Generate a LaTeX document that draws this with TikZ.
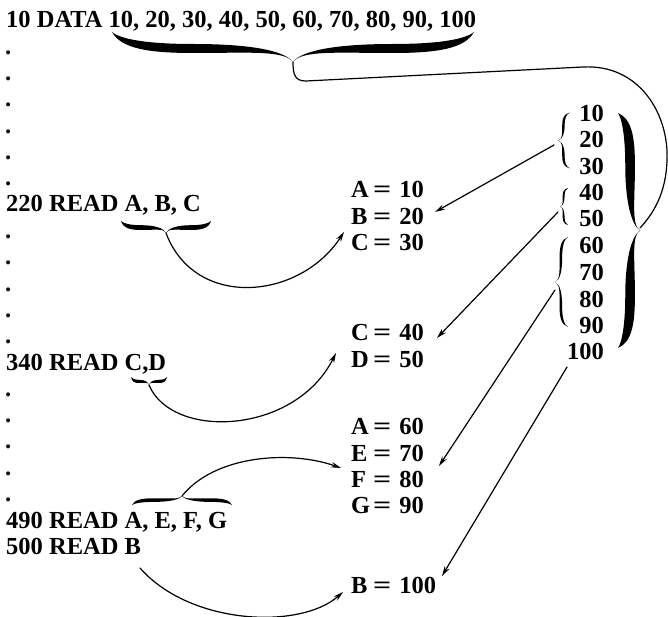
\documentclass[tikz,border=0pt]{standalone}
\usepackage{fontspec}
\usepackage{graphicx}
\setmainfont{Liberation Serif}
\usetikzlibrary{arrows.meta}
% filled calligraphic brace: ends at (-1,0),(1,0), tip at (0,1); #1 = half thickness
\newcommand\bracefill[1]{%
 \fill (-1,0) .. controls (-0.95,{0.4+#1}) and (-0.8,{0.55+#1}) .. (-0.55,{0.55+#1})
   .. controls (-0.25,{0.55+#1}) and (-0.05,0.6) .. (0,1)
   .. controls (0.05,0.6) and (0.25,{0.55+#1}) .. (0.55,{0.55+#1})
   .. controls (0.8,{0.55+#1}) and (0.95,{0.4+#1}) .. (1,0)
   .. controls (0.95,{0.4-#1}) and (0.8,{0.55-#1}) .. (0.55,{0.55-#1})
   .. controls (0.25,{0.55-#1}) and (0.05,0.6) .. (0,1)
   .. controls (-0.05,0.6) and (-0.25,{0.55-#1}) .. (-0.55,{0.55-#1})
   .. controls (-0.8,{0.55-#1}) and (-0.95,{0.4-#1}) .. (-1,0) -- cycle;}
\newcommand\val[2]{\makebox[22pt][l]{#1}\scalebox{1.3}[1]{=}\hspace{8pt}#2}
\begin{document}
\begin{tikzpicture}[x=1pt,y=-1pt,
  txt/.style={anchor=base west,inner sep=0pt,font=\fontsize{24.5}{26}\selectfont\bfseries},
  num/.style={anchor=base east,inner sep=0pt,font=\fontsize{24.5}{26}\selectfont\bfseries},
  conn/.style={line width=1.2pt,line cap=round},
  arr/.style={conn,-{Stealth[length=10pt,width=5.5pt]}}]
\useasboundingbox (0,0) rectangle (668,617);
% program lines
\node[txt] (d10) at (6,28) {10 DATA 10, 20, 30, 40, 50, 60, 70, 80, 90, 100};
\foreach \k in {1,2,3,4,5,6,8,9,10,11,12,14,15,16,17,18}
  \node[txt] (dot\k) at (5,{28+26.3*\k}) {.};
\node[txt] (r220) at (6,212) {220 READ A, B, C};
\node[txt] (r340) at (6,370) {340 READ C,D};
\node[txt] (r490) at (6,528) {490 READ A, E, F, G};
\node[txt] (r500) at (6,554) {500 READ B};
% values
\node[txt] (vA10) at (351,198) {\val{A}{10}};
\node[txt] (vB20) at (351,225) {\val{B}{20}};
\node[txt] (vC30) at (351,251) {\val{C}{30}};
\node[txt] (vC40) at (351,340) {\val{C}{40}};
\node[txt] (vD50) at (351,367) {\val{D}{50}};
\node[txt] (vA60) at (351,434) {\val{A}{60}};
\node[txt] (vE70) at (351,461) {\val{E}{70}};
\node[txt] (vF80) at (351,487) {\val{F}{80}};
\node[txt] (vG90) at (351,513) {\val{G}{90}};
\node[txt] (vB100) at (351,593) {\val{B}{100}};
% data column
\node[num] (n10) at (604,122) {10};
\node[num] (n20) at (604,148) {20};
\node[num] (n30) at (604,175) {30};
\node[num] (n40) at (604,201) {40};
\node[num] (n50) at (604,227) {50};
\node[num] (n60) at (604,254) {60};
\node[num] (n70) at (604,280) {70};
\node[num] (n80) at (604,307) {80};
\node[num] (n90) at (604,333) {90};
\node[num] (n100) at (604,359) {100};
% braces
\begin{scope}[shift={(293,32)},xscale=181,yscale=30] \bracefill{0.15} \end{scope}
\begin{scope}[shift={(166,221)},xscale=45,yscale=12] \bracefill{0.2} \end{scope}
\begin{scope}[shift={(149,377)},xscale=18,yscale=8] \bracefill{0.2} \end{scope}
\begin{scope}[shift={(182,505)},xscale=50,yscale=-9] \bracefill{0.2} \end{scope}
\begin{scope}[shift={(570,140.5)},rotate=-90,xscale=28,yscale=12] \bracefill{0.1} \end{scope}
\begin{scope}[shift={(568,206.5)},rotate=-90,xscale=18.5,yscale=8] \bracefill{0.12} \end{scope}
\begin{scope}[shift={(568,282)},rotate=-90,xscale=45,yscale=13] \bracefill{0.1} \end{scope}
\begin{scope}[shift={(618,230.5)},rotate=90,xscale=117.5,yscale=22] \bracefill{0.22} \end{scope}
% tips and ends
\coordinate (tData) at (293,62);
\coordinate (tBig) at (640,228);
\coordinate (tABC) at (166,233);
\coordinate (tCD) at (149,385);
\coordinate (tAEFG) at (182,496);
\coordinate (tB) at (140,568);
\coordinate (s1) at (554,145);
\coordinate (s2) at (558,212);
\coordinate (s3) at (555,290);
\coordinate (s4) at (567,367);
\coordinate (e1) at (435,212);
\coordinate (e2) at (437,338);
\coordinate (e3) at (439,466);
\coordinate (e4) at (442,576);
\coordinate (eC30) at (344,232);
\coordinate (eD50) at (336,353);
\coordinate (eF80) at (341,468);
\coordinate (eB100) at (343,592);
% connectors
\draw[conn] (tData) .. controls (293,75) and (295,81) .. (306,81) -- (583,67)
  .. controls (640,64) and (669,115) .. (667,160)
  .. controls (666,195) and (652,215) .. (tBig);
\draw[arr] (tABC) .. controls (195,310) and (300,300) .. (eC30);
\draw[arr] (tCD) .. controls (172,440) and (295,435) .. (eD50);
\draw[arr] (tAEFG) .. controls (215,455) and (290,450) .. (eF80);
\draw[arr] (tB) .. controls (190,625) and (300,630) .. (eB100);
\draw[arr] (s1) -- (e1);
\draw[arr] (s2) -- (e2);
\draw[arr] (s3) -- (e3);
\draw[arr] (s4) -- (e4);
\end{tikzpicture}
\end{document}
